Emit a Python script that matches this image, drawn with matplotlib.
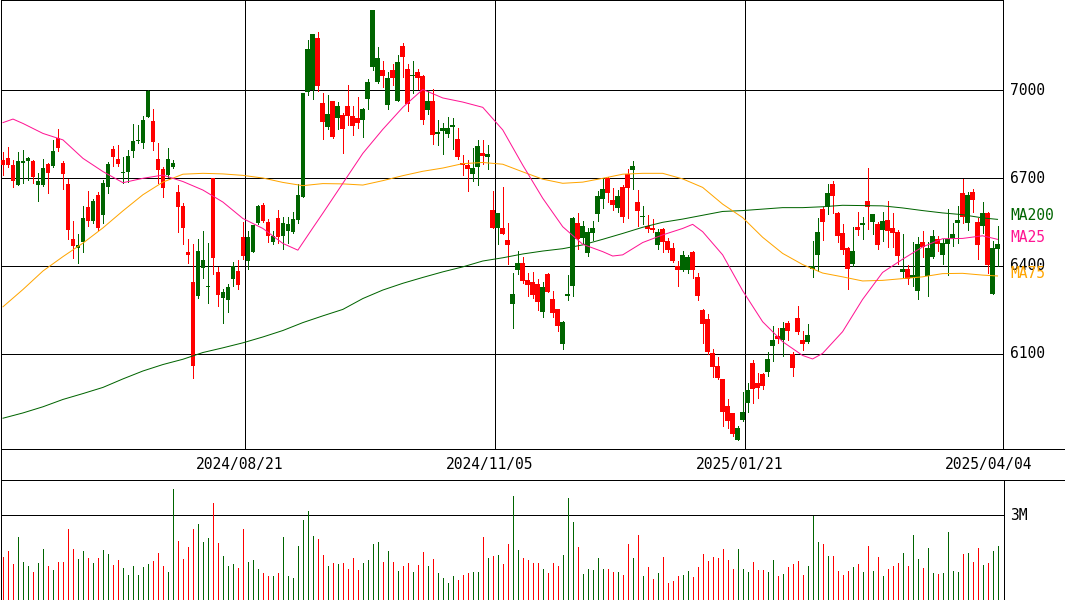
import matplotlib
matplotlib.use("Agg")
import matplotlib.pyplot as plt
import matplotlib.transforms as mtransforms
import numpy as np

# daily prices, 200 sessions (oldest first)
opens = [6761, 6768, 6745, 6677, 6750, 6757, 6758, 6677, 6677, 6748,
         6742, 6836, 6751, 6681, 6492, 6463, 6483, 6601, 6555, 6642,
         6575, 6670, 6799, 6765, 6718, 6722, 6793, 6827, 6820, 6909,
         6894, 6765, 6731, 6711, 6739, 6653, 6605, 6448, 6347, 6299,
         6394, 6328, 6699, 6381, 6292, 6285, 6355, 6383, 6499, 6418,
         6449, 6545, 6608, 6551, 6481, 6564, 6503, 6520, 6517, 6558,
         6636, 6994, 7000, 7177, 6956, 6874, 6963, 6906, 6915, 6946,
         6911, 6904, 6899, 6970, 7080, 7027, 7068, 6950, 7068, 6964,
         7150, 7072, 7048, 7061, 7048, 6932, 6963, 6851, 6861, 6850,
         6875, 6833, 6750, 6745, 6715, 6739, 6785, 6770, 6591, 6531,
         6530, 6489, 6272, 6385, 6410, 6352, 6346, 6339, 6244, 6373,
         6288, 6253, 6135, 6299, 6333, 6547, 6497, 6446, 6513, 6578,
         6630, 6701, 6625, 6599, 6669, 6714, 6728, 6618, 6568, 6537,
         6530, 6470, 6526, 6486, 6463, 6401, 6388, 6385, 6449, 6364,
         6251, 6219, 6103, 6059, 6013, 5921, 5900, 5808, 5876, 5934,
         6069, 6002, 6033, 6040, 6128, 6160, 6148, 6206, 6101, 6223,
         6148, 6142, 6391, 6438, 6596, 6602, 6681, 6582, 6513, 6461,
         6407, 6533, 6541, 6622, 6551, 6543, 6524, 6557, 6530, 6516,
         6381, 6390, 6359, 6316, 6482, 6365, 6432, 6493, 6439, 6476,
         6497, 6548, 6649, 6548, 6652, 6550, 6538, 6582, 6306, 6459]
highs = [6790, 6807, 6761, 6790, 6796, 6773, 6761, 6716, 6765, 6750,
         6830, 6867, 6758, 6696, 6555, 6509, 6606, 6656, 6627, 6652,
         6693, 6755, 6810, 6813, 6773, 6796, 6884, 6881, 6911, 7000,
         6935, 6818, 6736, 6803, 6763, 6676, 6616, 6492, 6474, 6492,
         6519, 6478, 6699, 6398, 6322, 6339, 6415, 6420, 6551, 6519,
         6540, 6607, 6615, 6560, 6519, 6591, 6566, 6568, 6583, 6679,
         6990, 7171, 7191, 7198, 6990, 6983, 6963, 6959, 6922, 7017,
         6946, 6976, 6940, 7039, 7273, 7147, 7099, 7063, 7089, 7119,
         7161, 7089, 7099, 7072, 7051, 7000, 7005, 6898, 6888, 6908,
         6906, 6870, 6778, 6761, 6802, 6830, 6830, 6813, 6656, 6581,
         6669, 6547, 6376, 6451, 6431, 6376, 6380, 6356, 6346, 6376,
         6315, 6253, 6213, 6369, 6567, 6581, 6555, 6531, 6555, 6656,
         6696, 6705, 6667, 6659, 6676, 6731, 6758, 6659, 6605, 6574,
         6560, 6527, 6530, 6496, 6478, 6417, 6451, 6438, 6451, 6377,
         6255, 6236, 6118, 6088, 6016, 5948, 5900, 5856, 5972, 6002,
         6081, 6036, 6036, 6108, 6196, 6189, 6209, 6213, 6108, 6265,
         6178, 6202, 6486, 6565, 6602, 6680, 6690, 6585, 6543, 6466,
         6533, 6584, 6567, 6734, 6577, 6551, 6584, 6622, 6581, 6523,
         6509, 6403, 6481, 6499, 6520, 6482, 6523, 6502, 6492, 6594,
         6547, 6605, 6696, 6653, 6663, 6564, 6619, 6584, 6485, 6537]
lows = [6710, 6739, 6670, 6676, 6682, 6693, 6684, 6623, 6674, 6650,
        6739, 6793, 6663, 6491, 6428, 6411, 6449, 6538, 6548, 6524,
        6545, 6650, 6742, 6742, 6683, 6688, 6770, 6818, 6803, 6907,
        6796, 6683, 6636, 6705, 6733, 6517, 6475, 6411, 6019, 6292,
        6358, 6275, 6372, 6265, 6205, 6244, 6333, 6322, 6424, 6391,
        6447, 6543, 6551, 6481, 6474, 6478, 6457, 6478, 6511, 6545,
        6634, 6983, 6969, 6998, 6834, 6866, 6838, 6868, 6786, 6882,
        6848, 6870, 6841, 6936, 7068, 7024, 7011, 6936, 7017, 6964,
        7045, 6930, 6990, 7005, 6885, 6919, 6817, 6813, 6783, 6841,
        6800, 6766, 6711, 6657, 6691, 6676, 6749, 6732, 6531, 6476,
        6510, 6408, 6190, 6374, 6343, 6296, 6292, 6251, 6227, 6310,
        6227, 6180, 6118, 6285, 6299, 6459, 6478, 6435, 6489, 6555,
        6598, 6618, 6591, 6584, 6551, 6565, 6663, 6538, 6544, 6515,
        6515, 6459, 6449, 6449, 6415, 6333, 6384, 6377, 6360, 6285,
        6139, 6101, 6023, 6014, 5856, 5849, 5822, 5805, 5873, 5903,
        5934, 5951, 5982, 6026, 6077, 6139, 6094, 6149, 6026, 6169,
        6115, 6138, 6361, 6384, 6490, 6578, 6582, 6483, 6442, 6322,
        6401, 6507, 6493, 6527, 6510, 6459, 6486, 6466, 6466, 6408,
        6364, 6340, 6333, 6289, 6432, 6296, 6428, 6452, 6408, 6371,
        6469, 6480, 6548, 6524, 6585, 6425, 6514, 6377, 6306, 6401]
closes = [6745, 6745, 6691, 6757, 6757, 6768, 6705, 6690, 6734, 6718,
          6792, 6803, 6715, 6524, 6469, 6473, 6564, 6555, 6622, 6531,
          6683, 6748, 6770, 6749, 6721, 6775, 6826, 6830, 6898, 6998,
          6824, 6728, 6667, 6765, 6751, 6602, 6531, 6439, 6060, 6451,
          6420, 6332, 6428, 6302, 6310, 6329, 6401, 6336, 6435, 6499,
          6540, 6605, 6554, 6503, 6502, 6500, 6545, 6543, 6560, 6642,
          6990, 7140, 7191, 7015, 6892, 6918, 6841, 6946, 6868, 6910,
          6878, 6889, 6935, 7027, 7273, 7109, 7049, 7041, 7041, 7095,
          7114, 6953, 7051, 7042, 6899, 6963, 6848, 6857, 6870, 6870,
          6881, 6770, 6745, 6731, 6734, 6809, 6776, 6782, 6531, 6581,
          6510, 6472, 6305, 6410, 6350, 6336, 6302, 6278, 6328, 6313,
          6241, 6197, 6209, 6301, 6564, 6493, 6537, 6516, 6530, 6639,
          6663, 6650, 6609, 6639, 6568, 6667, 6741, 6589, 6571, 6527,
          6524, 6516, 6483, 6456, 6417, 6388, 6438, 6431, 6388, 6299,
          6203, 6107, 6057, 6017, 5903, 5873, 5828, 5847, 5901, 5977,
          5982, 5985, 5992, 6083, 6148, 6152, 6189, 6178, 6053, 6176,
          6135, 6165, 6401, 6516, 6551, 6649, 6640, 6503, 6456, 6391,
          6451, 6524, 6547, 6602, 6577, 6473, 6554, 6520, 6514, 6435,
          6390, 6357, 6369, 6475, 6466, 6461, 6502, 6476, 6478, 6492,
          6509, 6557, 6568, 6642, 6626, 6473, 6581, 6405, 6461, 6475]
# volume, thousand shares
volumes = [1523, 1736, 1275, 2232, 1346, 1204, 992, 1311, 1806, 1204,
           1063, 1346, 1346, 2515, 1806, 1452, 1736, 1488, 1311, 1488,
           1771, 1629, 1240, 1417, 1133, 886, 1204, 886, 1169, 1275,
           1381, 1665, 1204, 992, 3932, 2090, 1452, 1877, 2515, 2692,
           2054, 2196, 3436, 2019, 1559, 1204, 1275, 1133, 2515, 1346,
           1417, 1098, 956, 850, 850, 956, 2232, 850, 779, 1913,
           2834, 3152, 2267, 2161, 1594, 1204, 1311, 1275, 1311, 1098,
           1488, 1063, 1311, 1417, 1984, 2054, 1346, 1736, 1346, 1027,
           1204, 1311, 992, 1240, 1700, 1204, 1452, 956, 779, 602,
           850, 708, 886, 956, 992, 992, 2232, 1488, 1559, 1594,
           1275, 1984, 3684, 1771, 1488, 1417, 1311, 1311, 1098, 956,
           1311, 1204, 1594, 3613, 2763, 1877, 921, 1098, 1063, 1488,
           1098, 1098, 992, 992, 886, 1984, 1488, 2302, 850, 1169,
           744, 956, 1523, 602, 673, 850, 886, 1027, 815, 1169,
           1629, 1381, 1523, 1488, 1806, 1417, 1098, 1806, 1098, 992,
           1346, 1063, 1063, 992, 1417, 850, 921, 1169, 1275, 1381,
           886, 1204, 2975, 2054, 1984, 1559, 1559, 1027, 886, 1027,
           1169, 1275, 992, 1913, 1027, 1523, 850, 1098, 1204, 1311,
           1665, 1204, 2302, 1452, 1133, 1842, 956, 921, 956, 2409,
           1027, 992, 1629, 1665, 1346, 1842, 1240, 1311, 1736, 1913]

# moving averages at these session indices
ma25_idx = [0, 2, 4, 8, 12, 16, 20, 24, 28, 32, 36, 40, 44, 48, 52, 56, 59,
            62, 64, 68, 72, 76, 80, 84, 88, 92, 96, 100, 104, 108, 112, 116,
            120, 122, 124, 128, 132, 136, 138, 140, 144, 148, 152, 156, 160,
            162, 164, 168, 172, 176, 180, 184, 188, 192, 196, 199]
ma25 = [6889, 6901, 6886, 6852, 6830, 6767, 6722, 6684, 6699, 6710, 6688,
        6659, 6618, 6562, 6528, 6477, 6454, 6530, 6580, 6682, 6784, 6866,
        6941, 7002, 6973, 6959, 6941, 6864, 6744, 6631, 6534, 6474, 6449,
        6434, 6438, 6480, 6506, 6528, 6542, 6517, 6438, 6316, 6210, 6142,
        6095, 6083, 6102, 6176, 6286, 6378, 6423, 6465, 6493, 6494, 6503,
        6491]
ma_idx = list(range(0, 197, 4)) + [199]
ma75 = [6261, 6320, 6383, 6432, 6478, 6530, 6588, 6643, 6686, 6713, 6716,
        6714, 6709, 6700, 6685, 6674, 6681, 6680, 6676, 6691, 6708, 6723,
        6734, 6749, 6753, 6747, 6721, 6696, 6682, 6686, 6699, 6713, 6716,
        6716, 6697, 6668, 6611, 6565, 6498, 6443, 6405, 6376, 6363, 6349,
        6351, 6357, 6363, 6374, 6375, 6369, 6366]
ma200 = [5881, 5899, 5920, 5945, 5965, 5986, 6015, 6042, 6064, 6082, 6105,
         6121, 6138, 6158, 6180, 6207, 6230, 6252, 6289, 6318, 6341, 6361,
         6380, 6397, 6417, 6428, 6441, 6451, 6459, 6472, 6491, 6511, 6532,
         6549, 6560, 6573, 6586, 6589, 6594, 6599, 6599, 6602, 6607, 6606,
         6605, 6598, 6589, 6581, 6575, 6564, 6559]

date_idx = [49, 99, 149, 199]
date_labels = ["2024/08/21", "2024/11/05", "2025/01/21", "2025/04/04"]
price_ticks = [6100, 6400, 6700, 7000]

UP = "#006400"
DOWN = "#ff0000"
W, H = 1065, 600
PX = 0.72  # one pixel in points
FONT = "DejaVu Sans Mono"

o = np.array(opens)
h = np.array(highs)
l = np.array(lows)
c = np.array(closes)
idx = np.arange(len(o))
cols = np.where(c >= o, UP, DOWN)

fig = plt.figure(figsize=(W / 100, H / 100), dpi=100)
ax = fig.add_axes([0.5 / W, 151 / H, 1002.5 / W, 449 / H])
axd = fig.add_axes([0.5 / W, 120.5 / H, 1064 / W, 30.5 / H])
axv = fig.add_axes([0.5 / W, 0, 1003 / W, 120.5 / H])

xmin = -0.5
ax.set_xlim(xmin, xmin + 1003 / 5)
axv.set_xlim(xmin, xmin + 1003 / 5)
axd.set_xlim(xmin, xmin + 1065 / 5)
ax.set_ylim(5776, 7307)
axv.set_ylim(0, 4268)
axd.set_ylim(0, 1)

for a in (ax, axd, axv):
    a.set_xticks([])
    a.set_yticks([])
    for s in a.spines.values():
        s.set_linewidth(PX)
        s.set_color("black")
        s.set_antialiased(False)
axv.spines["bottom"].set_visible(False)

# grid
for p in price_ticks:
    ax.axhline(p, color="black", lw=PX, zorder=1, antialiased=False)
for i in date_idx[:-1]:
    ax.axvline(i - 0.5, color="black", lw=PX, zorder=1, antialiased=False)
axv.axhline(3000, color="black", lw=PX, zorder=1, antialiased=False)

# candles
ax.vlines(idx, l, h, colors=cols, lw=PX, zorder=2, antialiased=False)
body = np.maximum(np.abs(c - o), 4)
ax.bar(idx, body, bottom=np.minimum(o, c), width=0.94, color=cols,
       linewidth=0, zorder=3, antialiased=False)

# moving averages
ax.plot(ma_idx, ma200, color="#006400", lw=PX, zorder=4)
ax.plot(ma_idx, ma75, color="#ffa500", lw=PX, zorder=4)
ax.plot(ma25_idx, ma25, color="#ff1493", lw=PX, zorder=4)

# volume
axv.vlines(idx, 0, volumes, colors=cols, lw=PX, zorder=2, antialiased=False)

# dates
for i, lab in zip(date_idx, date_labels):
    axd.text(i - 1.6, 0.5, lab, ha="center", va="center", family=FONT,
             fontsize=10.5, color="black")

# right-hand labels
tr = mtransforms.blended_transform_factory(fig.transFigure, ax.transData)
for p in price_ticks:
    ax.text(1010 / W, p, str(p), transform=tr, ha="left", va="center",
            family=FONT, fontsize=10.5, color="black", clip_on=False)
trv = mtransforms.blended_transform_factory(fig.transFigure, axv.transData)
axv.text(1010 / W, 3000, "3M", transform=trv, ha="left", va="center",
         family=FONT, fontsize=10.5, color="black", clip_on=False)

for lab, col, ypx in [("MA200", "#006400", 216), ("MA25", "#ff1493", 237),
                      ("MA75", "#ffa500", 273)]:
    fig.text(1010 / W, 1 - ypx / H, lab, ha="left", va="center",
             family=FONT, fontsize=10.5, color=col)

fig.savefig("out.png", dpi=100, facecolor="white")
